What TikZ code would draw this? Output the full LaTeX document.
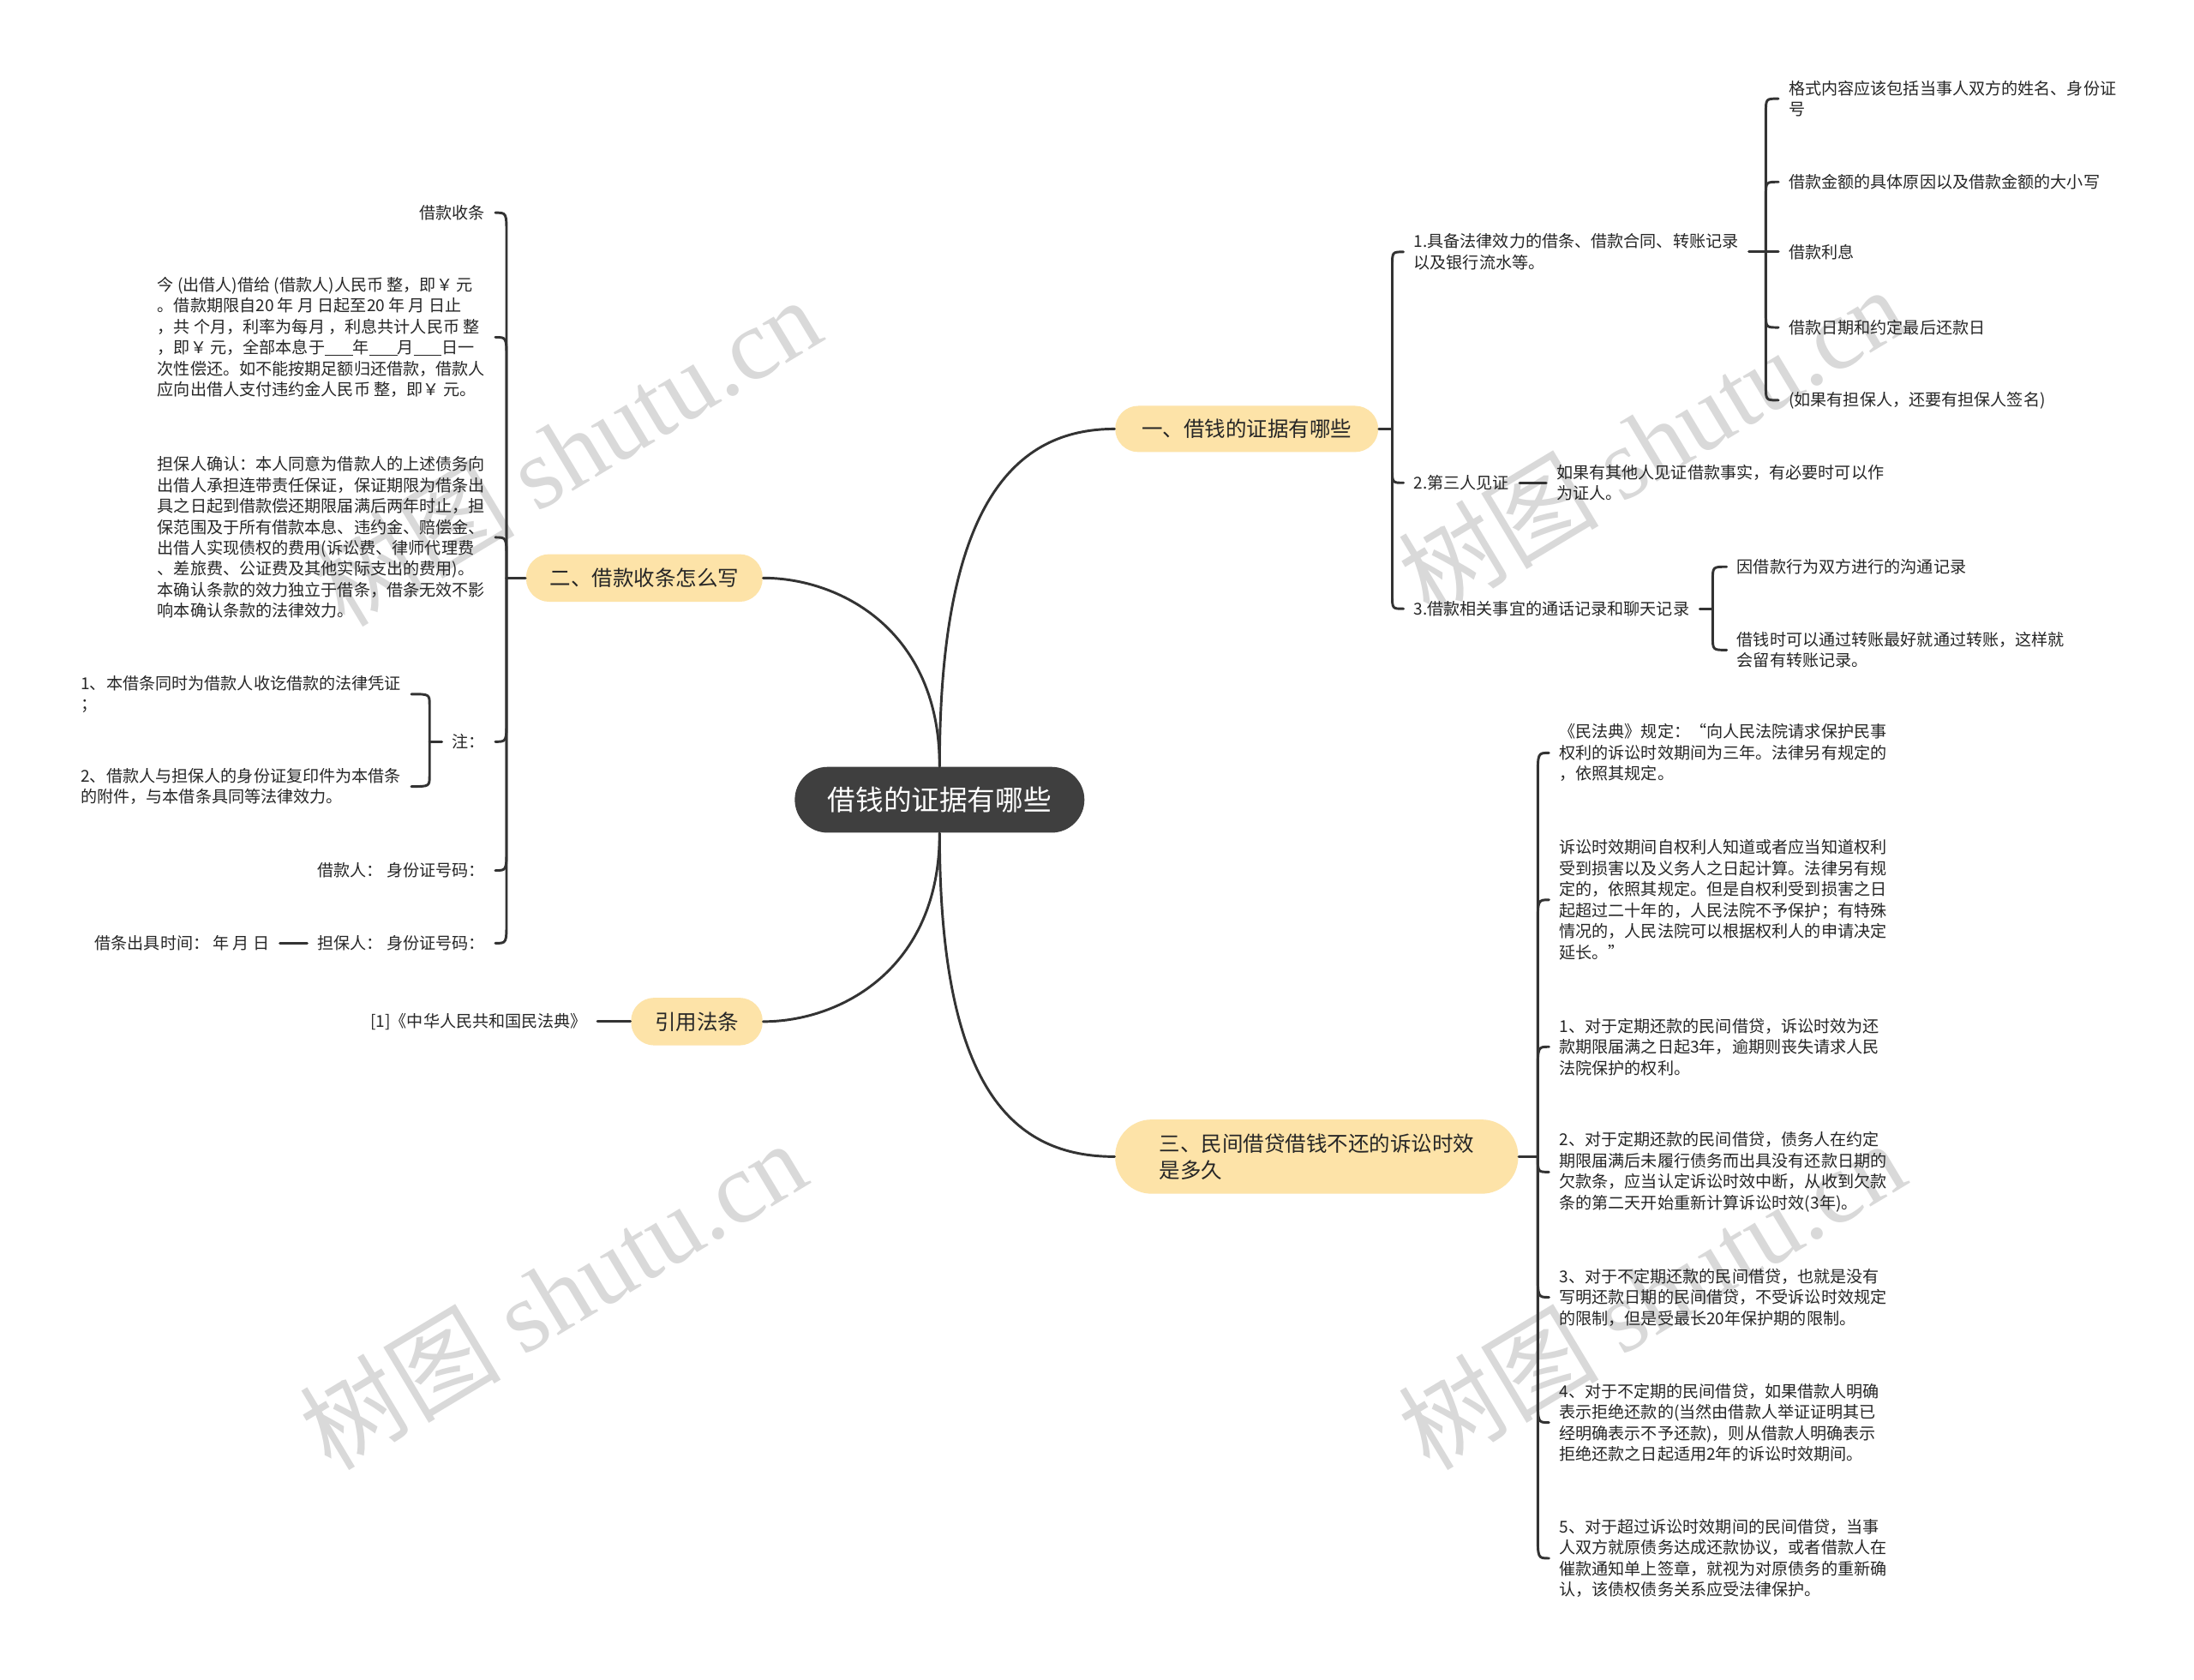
\documentclass[tikz,border=0pt]{standalone}
\usepackage{fontspec}
\setmainfont{Noto Sans CJK SC}
\newfontfamily\wmlatin{Liberation Serif}
\usetikzlibrary{calc}
\definecolor{linec}{HTML}{333333}
\definecolor{rootc}{HTML}{3F3F3F}
\definecolor{branchc}{HTML}{FDE3A8}
\definecolor{textc}{HTML}{262626}
\definecolor{wmc}{HTML}{D9D9D9}
\newcommand\blankln{\rule[-0.6pt]{10pt}{0.35pt}}
\begin{document}
\begin{tikzpicture}[x=0.5pt,y=-0.5pt,
  conn/.style={draw=linec,line width=0.9pt,line cap=round},
  leaf/.style={font=\fontsize{5.85}{7.5}\selectfont,text=textc,inner xsep=3.5pt,inner ysep=1pt,align=left},
  mainbranch/.style={fill=branchc,rounded corners=8.25pt,minimum height=16.5pt,font=\fontsize{7.5}{9.5}\selectfont,text=textc,inner sep=0pt},
  rootnode/.style={fill=rootc,text=white,rounded corners=11.75pt,minimum width=103.5pt,minimum height=23.5pt,font=\fontsize{10}{12}\selectfont,inner sep=0pt},
  wm/.style={text=wmc,font=\fontsize{36}{40}\selectfont,rotate=31,inner sep=0pt}]
\fill[white] (0,0) rectangle (1568,1200);
\useasboundingbox (0,0) rectangle (1568,1200);

% watermarks
\node[wm] (wm1) at (405,322) {树图 {\wmlatin shutu.cn}};
\node[wm] (wm2) at (395,925) {树图 {\wmlatin shutu.cn}};
\node[wm] (wm3) at (1180,315) {树图 {\wmlatin shutu.cn}};
\node[wm] (wm4) at (1180,925) {树图 {\wmlatin shutu.cn}};

% root and main branches
\node[rootnode] (root) at (671.5,571.5) {借钱的证据有哪些};
\node[mainbranch,minimum width=94pt] (b1) at (891,306.5) {一、借钱的证据有哪些};
\node[mainbranch,minimum width=84.5pt,minimum height=17pt] (b2) at (460.5,413) {二、借款收条怎么写};
\node[mainbranch,minimum width=47pt,minimum height=17pt] (b3) at (498,730) {引用法条};
\node[mainbranch,minimum width=144pt,minimum height=26.5pt,rounded corners=13pt,align=left] (b4) at (941,826.5) {三、民间借贷借钱不还的诉讼时效\\是多久};

\draw[conn] (root.north) .. controls (671.5,360) and (725,306.5) .. (b1.west);
\draw[conn] (root.north) .. controls (671.5,450) and (600,413) .. (b2.east);
\draw[conn] (root.south) .. controls (671.5,693) and (600,730) .. (b3.east);
\draw[conn] (root.south) .. controls (671.5,780) and (725,826.5) .. (b4.west);

% ---- branch 1 ----
\node[leaf,anchor=west] (a1) at (1003,180) {1.具备法律效力的借条、借款合同、转账记录\\以及银行流水等。};
\node[leaf,anchor=west] (a2) at (1003,345) {2.第三人见证};
\node[leaf,anchor=west] (a3) at (1003,435) {3.借款相关事宜的通话记录和聊天记录};
\coordinate (s1) at (995,306.5);
\draw[conn] (b1.east) -- (s1);
\draw[conn] (s1) -- ($(s1 |- a1.west)+(0,10)$) .. controls (s1 |- a1.west) .. (a1.west);
\draw[conn] (s1) -- ($(s1 |- a2.west)+(0,-10)$) .. controls (s1 |- a2.west) .. (a2.west);
\draw[conn] (s1) -- ($(s1 |- a3.west)+(0,-10)$) .. controls (s1 |- a3.west) .. (a3.west);

\node[leaf,anchor=west] (a11) at (1271,70.5) {格式内容应该包括当事人双方的姓名、身份证\\号};
\node[leaf,anchor=west] (a12) at (1271,130) {借款金额的具体原因以及借款金额的大小写};
\node[leaf,anchor=west] (a13) at (1271,180) {借款利息};
\node[leaf,anchor=west] (a14) at (1271,234) {借款日期和约定最后还款日};
\node[leaf,anchor=west] (a15) at (1271,286) {(如果有担保人，还要有担保人签名)};
\coordinate (s11) at (1262,180);
\draw[conn] (a1.east) -- (s11);
\draw[conn] (s11) -- ($(s11 |- a11.west)+(0,10)$) .. controls (s11 |- a11.west) .. (a11.west);
\draw[conn] (s11) -- ($(s11 |- a12.west)+(0,10)$) .. controls (s11 |- a12.west) .. (a12.west);
\draw[conn] (s11) -- (a13.west);
\draw[conn] (s11) -- ($(s11 |- a14.west)+(0,-10)$) .. controls (s11 |- a14.west) .. (a14.west);
\draw[conn] (s11) -- ($(s11 |- a15.west)+(0,-10)$) .. controls (s11 |- a15.west) .. (a15.west);

\node[leaf,anchor=west] (a21) at (1105,345) {如果有其他人见证借款事实，有必要时可以作\\为证人。};
\draw[conn] (a2.east) -- (a21.west);

\node[leaf,anchor=west] (a31) at (1234,405) {因借款行为双方进行的沟通记录};
\node[leaf,anchor=west] (a32) at (1234,464.5) {借钱时可以通过转账最好就通过转账，这样就\\会留有转账记录。};
\coordinate (s31) at (1224,435);
\draw[conn] (a3.east) -- (s31);
\draw[conn] (s31) -- ($(s31 |- a31.west)+(0,10)$) .. controls (s31 |- a31.west) .. (a31.west);
\draw[conn] (s31) -- ($(s31 |- a32.west)+(0,-10)$) .. controls (s31 |- a32.west) .. (a32.west);

% ---- branch 2 ----
\node[leaf,anchor=east] (l1) at (354,152) {借款收条};
\node[leaf,anchor=east] (l2) at (354,241) {今 (出借人)借给 (借款人)人民币 整，即￥ 元\\。借款期限自20 年 月 日起至20 年 月 日止\\，共 个月，利率为每月 ，利息共计人民币 整\\，即￥ 元，全部本息于\blankln 年\blankln 月\blankln 日一\\次性偿还。如不能按期足额归还借款，借款人\\应向出借人支付违约金人民币 整，即￥ 元。};
\node[leaf,anchor=east] (l3) at (354,384) {担保人确认：本人同意为借款人的上述债务向\\出借人承担连带责任保证，保证期限为借条出\\具之日起到借款偿还期限届满后两年时止，担\\保范围及于所有借款本息、违约金、赔偿金、\\出借人实现债权的费用(诉讼费、律师代理费\\、差旅费、公证费及其他实际支出的费用)。\\本确认条款的效力独立于借条，借条无效不影\\响本确认条款的法律效力。};
\node[leaf,anchor=east] (l4) at (354,530) {注：};
\node[leaf,anchor=east] (l5) at (354,622) {借款人： 身份证号码：};
\node[leaf,anchor=east] (l6) at (354,674) {担保人： 身份证号码：};
\coordinate (s2) at (362,413);
\draw[conn] (b2.west) -- (s2);
\draw[conn] (s2) -- ($(s2 |- l1.east)+(0,16)$) .. controls (s2 |- l1.east) .. (l1.east);
\draw[conn] (s2) -- ($(s2 |- l2.east)+(0,16)$) .. controls (s2 |- l2.east) .. (l2.east);
\draw[conn] (s2) -- ($(s2 |- l3.east)+(0,16)$) .. controls (s2 |- l3.east) .. (l3.east);
\draw[conn] (s2) -- ($(s2 |- l4.east)+(0,-16)$) .. controls (s2 |- l4.east) .. (l4.east);
\draw[conn] (s2) -- ($(s2 |- l5.east)+(0,-16)$) .. controls (s2 |- l5.east) .. (l5.east);
\draw[conn] (s2) -- ($(s2 |- l6.east)+(0,-16)$) .. controls (s2 |- l6.east) .. (l6.east);

\node[leaf,anchor=east] (l41) at (294,496) {1、本借条同时为借款人收讫借款的法律凭证\\；};
\node[leaf,anchor=east] (l42) at (294,562) {2、借款人与担保人的身份证复印件为本借条\\的附件，与本借条具同等法律效力。};
\coordinate (s41) at (307,530);
\draw[conn] (l4.west) -- (s41);
\draw[conn] (s41) -- ($(s41 |- l41.east)+(0,8)$) .. controls (s41 |- l41.east) .. (l41.east);
\draw[conn] (s41) -- ($(s41 |- l42.east)+(0,-8)$) .. controls (s41 |- l42.east) .. (l42.east);

\node[leaf,anchor=east] (l61) at (200,674) {借条出具时间： 年 月 日};
\draw[conn] (l6.west) -- (l61.east);

% ---- cited law ----
\node[leaf,anchor=east] (r1) at (427,730) {[1]《中华人民共和国民法典》};
\draw[conn] (b3.west) -- (r1.east);

% ---- branch 3 ----
\node[leaf,anchor=west] (d1) at (1107,538) {《民法典》规定：“向人民法院请求保护民事\\权利的诉讼时效期间为三年。法律另有规定的\\，依照其规定。};
\node[leaf,anchor=west] (d2) at (1107,643) {诉讼时效期间自权利人知道或者应当知道权利\\受到损害以及义务人之日起计算。法律另有规\\定的，依照其规定。但是自权利受到损害之日\\起超过二十年的，人民法院不予保护；有特殊\\情况的，人民法院可以根据权利人的申请决定\\延长。”};
\node[leaf,anchor=west] (d3) at (1107,748) {1、对于定期还款的民间借贷，诉讼时效为还\\款期限届满之日起3年，逾期则丧失请求人民\\法院保护的权利。};
\node[leaf,anchor=west] (d4) at (1107,837.5) {2、对于定期还款的民间借贷，债务人在约定\\期限届满后未履行债务而出具没有还款日期的\\欠款条，应当认定诉讼时效中断，从收到欠款\\条的第二天开始重新计算诉讼时效(3年)。};
\node[leaf,anchor=west] (d5) at (1107,927) {3、对于不定期还款的民间借贷，也就是没有\\写明还款日期的民间借贷，不受诉讼时效规定\\的限制，但是受最长20年保护期的限制。};
\node[leaf,anchor=west] (d6) at (1107,1016.5) {4、对于不定期的民间借贷，如果借款人明确\\表示拒绝还款的(当然由借款人举证证明其已\\经明确表示不予还款)，则从借款人明确表示\\拒绝还款之日起适用2年的诉讼时效期间。};
\node[leaf,anchor=west] (d7) at (1107,1113.5) {5、对于超过诉讼时效期间的民间借贷，当事\\人双方就原债务达成还款协议，或者借款人在\\催款通知单上签章，就视为对原债务的重新确\\认，该债权债务关系应受法律保护。};
\coordinate (s3) at (1099,826.5);
\draw[conn] (b4.east) -- (s3);
\draw[conn] (s3) -- ($(s3 |- d1.west)+(0,18)$) .. controls (s3 |- d1.west) .. (d1.west);
\draw[conn] (s3) -- ($(s3 |- d2.west)+(0,18)$) .. controls (s3 |- d2.west) .. (d2.west);
\draw[conn] (s3) -- ($(s3 |- d3.west)+(0,18)$) .. controls (s3 |- d3.west) .. (d3.west);
\draw[conn] (s3) .. controls (s3 |- d4.west) .. (d4.west);
\draw[conn] (s3) -- ($(s3 |- d5.west)+(0,-18)$) .. controls (s3 |- d5.west) .. (d5.west);
\draw[conn] (s3) -- ($(s3 |- d6.west)+(0,-18)$) .. controls (s3 |- d6.west) .. (d6.west);
\draw[conn] (s3) -- ($(s3 |- d7.west)+(0,-18)$) .. controls (s3 |- d7.west) .. (d7.west);
\end{tikzpicture}
\end{document}
